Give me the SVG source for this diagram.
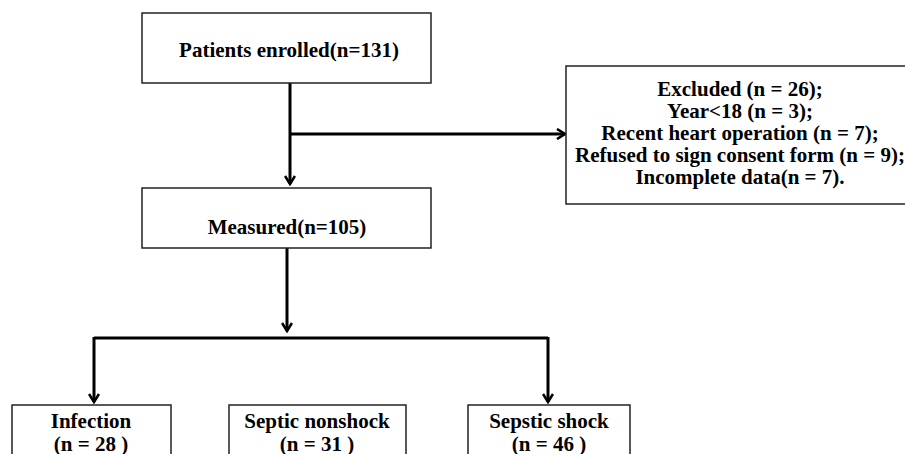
<svg xmlns="http://www.w3.org/2000/svg" width="905" height="454" viewBox="0 0 905 454">
<style>
.box{fill:#fff;stroke:#222;stroke-width:1.5}
.t{font-family:"Liberation Serif","Times New Roman",serif;font-weight:bold;font-size:21px;fill:#000;text-anchor:middle}
.c{fill:none;stroke:#000;stroke-width:3}
</style>
<defs>
<marker id="arr" viewBox="0 0 12 12" refX="10" refY="6" markerWidth="12" markerHeight="12" markerUnits="userSpaceOnUse" orient="auto">
<path d="M2,1 L10,6 L2,11" fill="none" stroke="#000" stroke-width="2.6"/>
</marker>
</defs>
<rect width="905" height="454" fill="#fff"/>
<g id="connectors">
<path class="c" d="M290,83 V184" marker-end="url(#arr)"/>
<path class="c" d="M290,134 H565" marker-end="url(#arr)"/>
<path class="c" d="M287,248 V331" marker-end="url(#arr)"/>
<path class="c" d="M94,338 H548"/>
<path class="c" d="M94,337 V402" marker-end="url(#arr)"/>
<path class="c" d="M548,337 V402" marker-end="url(#arr)"/>
</g>
<g id="enrolled">
<rect class="box" x="142" y="13" width="289" height="70"/>
<text class="t" x="289" y="57">Patients enrolled(n=131)</text>
</g>
<g id="excluded">
<rect class="box" x="566" y="66" width="348" height="138"/>
<text class="t" x="740" y="96">Excluded (n = 26);</text>
<text class="t" x="740" y="118">Year&lt;18 (n = 3);</text>
<text class="t" x="740" y="140">Recent heart operation (n = 7);</text>
<text class="t" x="740" y="162">Refused to sign consent form (n = 9);</text>
<text class="t" x="740" y="184">Incomplete data(n = 7).</text>
</g>
<g id="measured">
<rect class="box" x="142" y="188" width="289" height="60"/>
<text class="t" x="287" y="234">Measured(n=105)</text>
</g>
<g id="infection">
<rect class="box" x="12" y="405" width="159" height="60"/>
<text class="t" x="91" y="428">Infection</text>
<text class="t" x="91" y="451">(n = 28 )</text>
</g>
<g id="nonshock">
<rect class="box" x="229" y="405" width="177" height="60"/>
<text class="t" x="317" y="428">Septic nonshock</text>
<text class="t" x="317" y="451">(n = 31 )</text>
</g>
<g id="shock">
<rect class="box" x="468" y="405" width="162" height="60"/>
<text class="t" x="549" y="428">Sepstic shock</text>
<text class="t" x="549" y="451">(n = 46 )</text>
</g>
</svg>
